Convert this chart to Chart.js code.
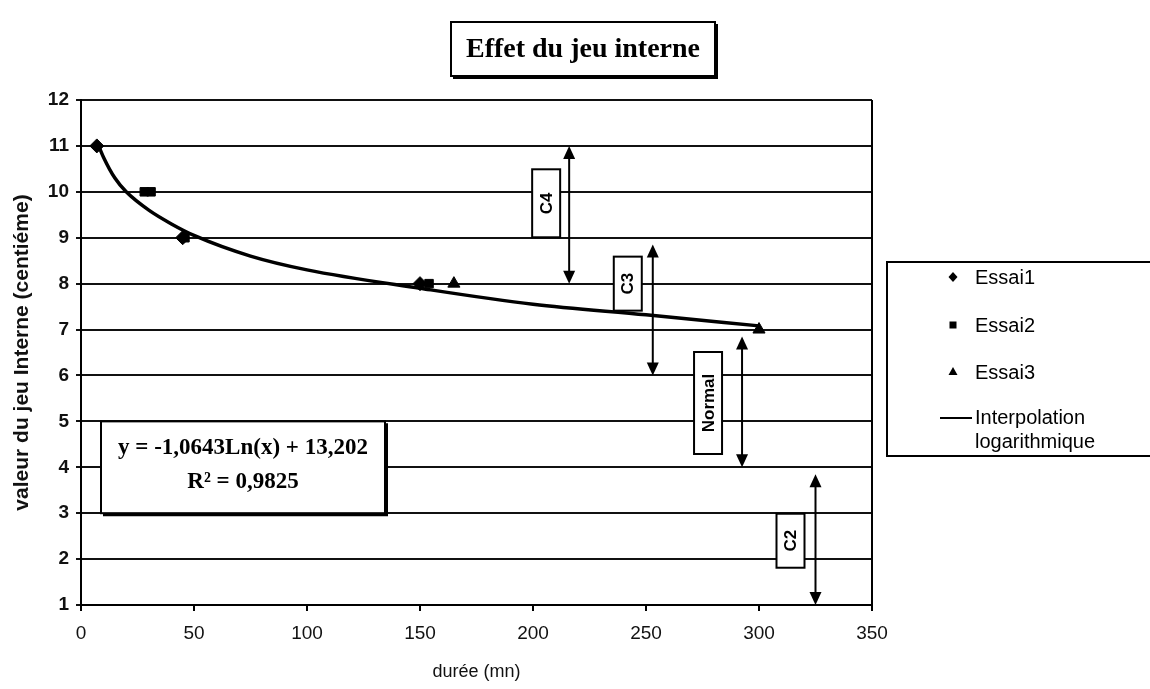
<!DOCTYPE html>
<html>
<head>
<meta charset="utf-8">
<script src="https://cdn.jsdelivr.net/npm/chart.js@4.4.1/dist/chart.umd.min.js"></script>
<style>
html, body { margin: 0; padding: 0; background: #fff; }
#wrap { width: 1150px; height: 689px; position: relative; }
</style>
</head>
<body>
<div id="wrap"><canvas id="jeuChart"></canvas></div>
<script>
// axis ticks
const xTicks = [0, 50, 100, 150, 200, 250, 300, 350];
const yTicks = [1, 2, 3, 4, 5, 6, 7, 8, 9, 10, 11, 12];

// measured points (durée en mn, jeu interne en centième)
const essai1X = [7, 45, 150];
const essai1Y = [11, 9, 8];
const essai2X = [28, 31, 46, 154];
const essai2Y = [10, 10, 9, 8];
const essai3X = [165, 300];
const essai3Y = [8, 7];

// logarithmic trend line
const fitX = [7, 10, 15, 20, 30, 40, 50, 75, 100, 150, 200, 250, 300];
const fitY = [11.1, 10.75, 10.3, 10.0, 9.6, 9.3, 9.05, 8.6, 8.3, 7.9, 7.55, 7.32, 7.08];

// clearance classes (vertical double arrows)
const classNames = ['C4', 'C3', 'Normal', 'C2'];
const classAt = [216, 253, 292.5, 325];
const classLow = [8, 6, 4, 1];
const classHigh = [11, 8.85, 6.85, 3.85];

const equationLines = ['y = -1,0643Ln(x) + 13,202', 'R² = 0,9825'];

const SANS = "'Liberation Sans', Arial, sans-serif";
const SERIF = "'Liberation Serif', 'Times New Roman', serif";

// label box layout: [offset from arrow px, centre value, box height px]
const classBoxes = [
    [-23, 9.75, 68],
    [-25, 8.0, 54],
    [-34, 5.4, 102],
    [-25, 2.4, 54]
];

function toPoints(xs, ys) {
    return xs.map((x, i) => ({ x: x, y: ys[i] }));
}

function boxWithShadow(ctx, x, y, w, h) {
    ctx.fillStyle = '#fff';
    ctx.fillRect(x, y, w, h);
    ctx.strokeStyle = '#000';
    ctx.lineWidth = 2;
    ctx.strokeRect(x, y, w, h);
    ctx.lineWidth = 3;
    ctx.beginPath();
    ctx.moveTo(x + 2, y + h + 1.5);
    ctx.lineTo(x + w + 1.5, y + h + 1.5);
    ctx.lineTo(x + w + 1.5, y + 2);
    ctx.stroke();
}

function arrowHead(ctx, x, tipY, dir) {
    ctx.beginPath();
    ctx.moveTo(x, tipY);
    ctx.lineTo(x - 6, tipY + dir * 13);
    ctx.lineTo(x + 6, tipY + dir * 13);
    ctx.closePath();
    ctx.fill();
}

const decorPlugin = {
    id: 'decor',
    afterDraw(chart) {
        const ctx = chart.ctx;
        const area = chart.chartArea;
        const xs = chart.scales.x;
        const ys = chart.scales.y;
        ctx.save();

        // right frame of the plot
        ctx.strokeStyle = '#000';
        ctx.lineWidth = 2;
        ctx.beginPath();
        ctx.moveTo(area.right, area.top);
        ctx.lineTo(area.right, area.bottom);
        ctx.stroke();

        // class arrows + labels
        classNames.forEach((name, i) => {
            const px = xs.getPixelForValue(classAt[i]);
            const top = ys.getPixelForValue(classHigh[i]);
            const bot = ys.getPixelForValue(classLow[i]);
            ctx.strokeStyle = '#000';
            ctx.fillStyle = '#000';
            ctx.lineWidth = 2;
            ctx.beginPath();
            ctx.moveTo(px, top + 6);
            ctx.lineTo(px, bot - 6);
            ctx.stroke();
            arrowHead(ctx, px, top, 1);
            arrowHead(ctx, px, bot, -1);

            const b = classBoxes[i];
            const cx = px + b[0];
            const cy = ys.getPixelForValue(b[1]);
            const w = 28, h = b[2];
            ctx.fillStyle = '#fff';
            ctx.fillRect(cx - w / 2, cy - h / 2, w, h);
            ctx.lineWidth = 2;
            ctx.strokeRect(cx - w / 2, cy - h / 2, w, h);
            ctx.save();
            ctx.translate(cx, cy);
            ctx.rotate(-Math.PI / 2);
            ctx.fillStyle = '#000';
            ctx.font = 'bold 17px ' + SANS;
            ctx.textAlign = 'center';
            ctx.textBaseline = 'middle';
            ctx.fillText(name, 0, 1);
            ctx.restore();
        });

        // equation box
        const ex = 101, ey = ys.getPixelForValue(5), eh = ys.getPixelForValue(3) - ey, ew = 284;
        boxWithShadow(ctx, ex, ey, ew, eh);
        ctx.fillStyle = '#000';
        ctx.font = 'bold 23px ' + SERIF;
        ctx.textAlign = 'center';
        ctx.textBaseline = 'middle';
        ctx.fillText(equationLines[0], ex + ew / 2, ey + 27);
        ctx.fillText(equationLines[1], ex + ew / 2, ey + 61);

        // title box
        boxWithShadow(ctx, 451, 22, 264, 54);
        ctx.fillStyle = '#000';
        ctx.font = 'bold 28px ' + SERIF;
        ctx.fillText('Effet du jeu interne', 583, 50);

        // legend
        ctx.strokeStyle = '#000';
        ctx.lineWidth = 2;
        ctx.beginPath();
        ctx.moveTo(1152, 262);
        ctx.lineTo(887, 262);
        ctx.lineTo(887, 456);
        ctx.lineTo(1152, 456);
        ctx.stroke();
        ctx.font = '20px ' + SANS;
        ctx.textAlign = 'left';
        ctx.fillStyle = '#000';
        const mx = 953;
        // diamond
        ctx.beginPath();
        ctx.moveTo(mx, 272); ctx.lineTo(mx + 4.5, 277); ctx.lineTo(mx, 282); ctx.lineTo(mx - 4.5, 277);
        ctx.closePath(); ctx.fill();
        ctx.fillText(chart.data.datasets[0].label, 975, 278);
        // square
        ctx.fillRect(mx - 3.5, 321.5, 7, 7);
        ctx.fillText(chart.data.datasets[1].label, 975, 326);
        // triangle
        ctx.beginPath();
        ctx.moveTo(mx, 367); ctx.lineTo(mx + 4.5, 375); ctx.lineTo(mx - 4.5, 375);
        ctx.closePath(); ctx.fill();
        ctx.fillText(chart.data.datasets[2].label, 975, 373);
        // line
        ctx.lineWidth = 2;
        ctx.beginPath();
        ctx.moveTo(940, 418); ctx.lineTo(972, 418);
        ctx.stroke();
        ctx.fillText('Interpolation', 975, 418);
        ctx.fillText('logarithmique', 975, 442);

        ctx.restore();
    }
};

new Chart(document.getElementById('jeuChart'), {
    type: 'scatter',
    data: {
        datasets: [{
            label: 'Essai1',
            data: toPoints(essai1X, essai1Y),
            pointStyle: 'rectRot',
            pointRadius: 7,
            backgroundColor: '#000',
            borderColor: '#000'
        }, {
            label: 'Essai2',
            data: toPoints(essai2X, essai2Y),
            pointStyle: 'rect',
            pointRadius: 6,
            backgroundColor: '#000',
            borderColor: '#000'
        }, {
            label: 'Essai3',
            data: toPoints(essai3X, essai3Y),
            pointStyle: 'triangle',
            pointRadius: 7,
            backgroundColor: '#000',
            borderColor: '#000'
        }, {
            type: 'line',
            label: 'Interpolation logarithmique',
            data: toPoints(fitX, fitY),
            showLine: true,
            borderColor: '#000',
            borderWidth: 3.5,
            pointRadius: 0,
            cubicInterpolationMode: 'monotone',
            fill: false
        }]
    },
    options: {
        responsive: true,
        maintainAspectRatio: false,
        animation: false,
        layout: {
            padding: { top: 100, right: 278, left: 0, bottom: 0 }
        },
        plugins: {
            legend: { display: false },
            tooltip: { enabled: false }
        },
        scales: {
            x: {
                type: 'linear',
                min: xTicks[0],
                max: xTicks[xTicks.length - 1],
                afterBuildTicks: s => { s.ticks = xTicks.map(v => ({ value: v })); },
                afterFit: s => { s.height = 84; },
                ticks: {
                    color: '#111',
                    padding: 11,
                    maxRotation: 0,
                    font: { family: SANS, size: 19 }
                },
                grid: { drawOnChartArea: false, drawTicks: true, tickLength: 6, color: '#000', lineWidth: 2 },
                border: { color: '#000', width: 2 },
                title: {
                    display: true,
                    text: 'durée (mn)',
                    color: '#111',
                    font: { family: SANS, size: 18 },
                    padding: { top: 4, bottom: 6 }
                }
            },
            y: {
                min: yTicks[0],
                max: yTicks[yTicks.length - 1],
                afterBuildTicks: s => { s.ticks = yTicks.map(v => ({ value: v })); },
                afterFit: s => { s.width = 81; },
                ticks: {
                    color: '#111',
                    padding: 7,
                    font: { family: SANS, size: 19, weight: 'bold' }
                },
                grid: { color: '#111', lineWidth: 2, drawTicks: true, tickLength: 5 },
                border: { color: '#000', width: 2 },
                title: {
                    display: true,
                    text: 'valeur du jeu Interne (centiéme)',
                    color: '#111',
                    font: { family: SANS, size: 21, weight: 'bold' },
                    padding: { top: 10, bottom: 4 }
                }
            }
        }
    },
    plugins: [decorPlugin]
});
</script>
</body>
</html>
